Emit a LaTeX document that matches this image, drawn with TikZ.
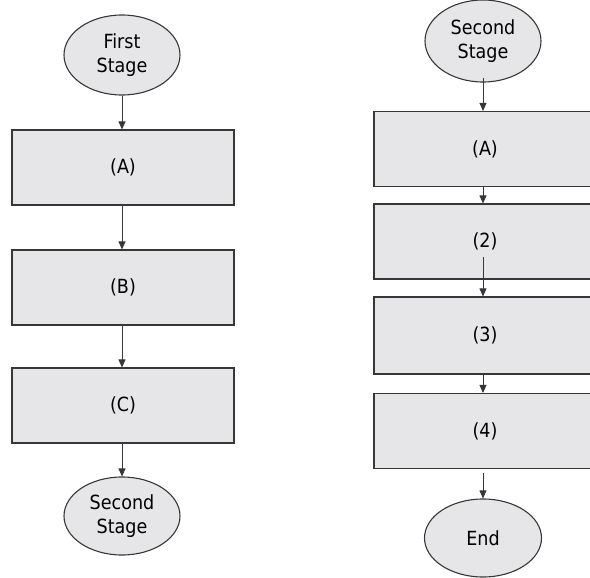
\documentclass[tikz,border=0pt]{standalone}
\usepackage{fontspec}
\setmainfont{DejaVu Sans Condensed}
\usetikzlibrary{shapes.geometric, arrows.meta}
\definecolor{boxgray}{RGB}{230,230,232}
\definecolor{linegray}{RGB}{55,55,55}
\tikzset{
  stagebox/.style={ellipse, draw=linegray, fill=boxgray, line width=1.1pt,
    minimum width=116pt, minimum height=80pt, inner sep=0pt, align=center,
    font=\fontsize{19.5}{23.5}\selectfont},
  stepbox/.style={rectangle, draw=linegray, fill=boxgray, line width=1.1pt,
    minimum width=222pt, minimum height=75pt, inner sep=0pt,
    font=\fontsize{19.5}{23.5}\selectfont},
  flow/.style={draw=linegray, line width=0.9pt, -{Triangle[length=8pt,width=7pt]}}
}

\begin{document}
\begin{tikzpicture}[x=1pt, y=-1pt]
    \useasboundingbox (0,0) rectangle (590,578);
    % first stage
    \node[stagebox] (first) at (122,55) {First\\Stage};
    \node[stepbox] (la) at (123,167.5) {(A)};
    \node[stepbox] (lb) at (123,287.5) {(B)};
    \node[stepbox] (lc) at (123,405.5) {(C)};
    \node[stagebox, minimum height=78pt] (second) at (122,516) {Second\\Stage};
    \draw[flow] (first.south) -- (first.south |- la.north);
    \draw[flow] (first.south |- la.south) -- (first.south |- lb.north);
    \draw[flow] (first.south |- lb.south) -- (first.south |- lc.north);
    \draw[flow] (first.south |- lc.south) -- (second.north);
    % second stage
    \node[stagebox, minimum height=82pt] (rstart) at (483,41) {Second\\Stage};
    \node[stepbox] (ra) at (485,149) {(A)};
    \node[stepbox] (r2) at (485,241.5) {(2)};
    \node[stepbox, minimum height=77pt] (r3) at (485,335.5) {(3)};
    \node[stepbox] (r4) at (485,431) {(4)};
    \node[stagebox, minimum width=117pt, minimum height=78pt] (rend) at (483,538) {End};
    \draw[flow] ([yshift=5pt]rstart.south) -- (rstart.south |- ra.north);
    \draw[flow] (rstart.south |- ra.south) -- (rstart.south |- r2.north);
    \draw[flow] ([yshift=23pt]rstart.south |- r2.south) -- (rstart.south |- r3.north);
    \draw[flow] (rstart.south |- r3.south) -- (rstart.south |- r4.north);
    \draw[flow] ([yshift=-4pt]rstart.south |- r4.south) -- (rend.north);
\end{tikzpicture}
\end{document}
